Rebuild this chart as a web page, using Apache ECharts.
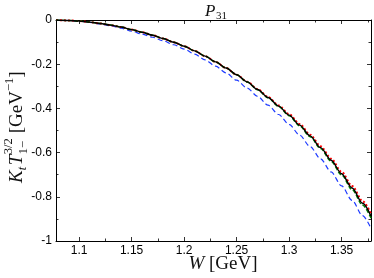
<!DOCTYPE html>
<html><head><meta charset="utf-8">
<script src="https://cdn.jsdelivr.net/npm/echarts@6/dist/echarts.min.js"></script>
<style>html,body{margin:0;padding:0;background:#fff}#c{width:374px;height:278px}</style>
</head><body><div id="c"></div>
<script>
const W = [1.078,1.09,1.10,1.11,1.12,1.13,1.14,1.15,1.16,1.17,1.18,1.19,1.20,1.21,1.22,1.23,1.24,1.25,1.26,1.27,1.28,1.29,1.30,1.31,1.32,1.33,1.34,1.35,1.36,1.37,1.378];
const black = [0,-0.002,-0.005,-0.0095,-0.0155,-0.023,-0.032,-0.0435,-0.0555,-0.069,-0.084,-0.1005,-0.1185,-0.1395,-0.1635,-0.1895,-0.2175,-0.2475,-0.280,-0.3145,-0.351,-0.3895,-0.4305,-0.4755,-0.5245,-0.5775,-0.6345,-0.6955,-0.7605,-0.8295,-0.8875];
const red = [0,-0.002,-0.005,-0.0095,-0.0155,-0.023,-0.032,-0.0435,-0.0555,-0.069,-0.084,-0.1005,-0.1185,-0.1395,-0.1635,-0.1895,-0.2175,-0.2475,-0.279,-0.3125,-0.3485,-0.3865,-0.4265,-0.4705,-0.519,-0.5715,-0.6275,-0.6875,-0.7515,-0.8195,-0.8765];
const green = [0,-0.002,-0.005,-0.0095,-0.0155,-0.023,-0.032,-0.0435,-0.0555,-0.069,-0.084,-0.1005,-0.1185,-0.1395,-0.1635,-0.1895,-0.2175,-0.2475,-0.2805,-0.3155,-0.3525,-0.3915,-0.433,-0.4785,-0.528,-0.5815,-0.6395,-0.7015,-0.7675,-0.8375,-0.8965];
const blue = [0,-0.002,-0.0055,-0.0105,-0.0175,-0.026,-0.037,-0.0505,-0.0635,-0.078,-0.094,-0.112,-0.1315,-0.1545,-0.1805,-0.209,-0.2395,-0.2725,-0.308,-0.3455,-0.3855,-0.4275,-0.4725,-0.5205,-0.5725,-0.6285,-0.6875,-0.7505,-0.8165,-0.8855,-0.9425];
const xMajorTicks = [1.1,1.15,1.2,1.25,1.3,1.35];
const xMinorTicks = [1.125,1.175,1.225,1.275,1.325,1.375];
const yMajorTicks = [0,-0.2,-0.4,-0.6,-0.8,-1];
const yMinorTicks = [-0.1,-0.3,-0.5,-0.7,-0.9];

const SERIF = '"Liberation Serif","DejaVu Serif",serif';
const SANS = '"Liberation Sans",Arial,sans-serif';
const ctx = document.createElement('canvas').getContext('2d');
function mw(t, f){ ctx.font = f; return ctx.measureText(t).width; }

const X_MIN = 1.078, X_MAX = 1.378, Y_MIN = -1, Y_MAX = 0;
function xAx(pos, ticks, len, line, label){
  return {type:'value', position:pos, min:X_MIN, max:X_MAX, offset:0,
    axisLine:{show:line, onZero:false, lineStyle:{color:'#000', width:1}},
    axisTick:{show:true, inside:true, length:len, customValues:ticks, lineStyle:{color:'#000', width:0.8}},
    axisLabel:{show:label, customValues:ticks, color:'#000', fontSize:12, fontFamily:SANS, margin:4, formatter:v=>String(+v.toFixed(2))},
    splitLine:{show:false}, minorTick:{show:false}};
}
function yAx(pos, ticks, len, line, label){
  return {type:'value', position:pos, min:Y_MIN, max:Y_MAX, offset:0,
    axisLine:{show:line, onZero:false, lineStyle:{color:'#000', width:1}},
    axisTick:{show:true, inside:true, length:len, customValues:ticks, lineStyle:{color:'#000', width:0.8}},
    axisLabel:{show:label, customValues:ticks, color:'#000', fontSize:12, fontFamily:SANS, margin:4, formatter:v=>String(+v.toFixed(2))},
    splitLine:{show:false}, minorTick:{show:false}};
}

function mk(arr){ return W.map((w,i)=>[w, arr[i]]); }
function line(name, arr, color, width, type, z){
  return {name, type:'line', data:mk(arr), showSymbol:false, smooth:0.3, smoothMonotone:'x', z,
    lineStyle:{color, width, type}, xAxisIndex:0, yAxisIndex:0, animation:false};
}

// y-axis title layout (rotated group)
const S = 19, s = 12.5;
const fI = 'italic '+S+'px '+SERIF, fR = S+'px '+SERIF, fSi = 'italic '+s+'px '+SERIF, fSr = s+'px '+SERIF;
const kids = [];
let cx = 0;
function put(t, f, size, base){
  kids.push({type:'text', x:cx, y:base - 0.34*size, style:{text:t, font:f, fill:'#111', textAlign:'left', textVerticalAlign:'middle'}});
  return mw(t, f);
}
cx += put('K', fI, S, 0);
cx += put('t', fSi, s, 4) + 1.5;
cx += put('T', fI, S, 0) + 0.5;
const wA = put('3/2', fSr, s, -10);
const wB = put('1\u2212', fSr, s, 5);
cx += Math.max(wA, wB) + 5;
cx += put('[GeV', fR, S, 0);
cx += put('\u22121', fSr, s, -9);
cx += put(']', fR, S, 0);

const titleP = mw('P', 'italic 17px '+SERIF);

const option = {
  animation:false,
  grid:{left:56, right:3, top:20, bottom:37},
  xAxis:[xAx('bottom', xMajorTicks, 4, true, true), xAx('bottom', xMinorTicks, 2.5, false, false),
         xAx('top', xMajorTicks, 4, true, false), xAx('top', xMinorTicks, 2.5, false, false)],
  yAxis:[yAx('left', yMajorTicks, 4, true, true), yAx('left', yMinorTicks, 2.5, false, false),
         yAx('right', yMajorTicks, 4, true, false), yAx('right', yMinorTicks, 2.5, false, false)],
  series:[
    line('blue', blue, '#1f3cff', 1.2, [5,3], 2),
    line('red', red, '#ff0000', 2, [2,2], 3),
    line('green', green, '#008000', 1.5, [4,2], 4),
    line('black', black, '#000000', 1.4, 'solid', 5)
  ],
  graphic:[
    {type:'text', x:205, y:17 - 0.34*17, style:{text:'P', font:'italic 17px '+SERIF, fill:'#111', textAlign:'left', textVerticalAlign:'middle'}},
    {type:'text', x:205 + titleP + 0.5, y:20 - 0.34*11, style:{text:'31', font:'11px '+SERIF, fill:'#111', textAlign:'left', textVerticalAlign:'middle'}},
    {type:'text', x:223, y:270 - 0.34*19, style:{text:'{i|W} [GeV]', font:'19px '+SERIF, fill:'#111', textAlign:'center', textVerticalAlign:'middle',
      rich:{i:{fontStyle:'italic', fontSize:19, fontFamily:SERIF}}}},
    {type:'group', x:23, y:183, rotation:Math.PI/2, children:kids}
  ]
};
const chart = echarts.init(document.getElementById('c'), null, {renderer:'canvas'});
chart.setOption(option);
</script></body></html>
